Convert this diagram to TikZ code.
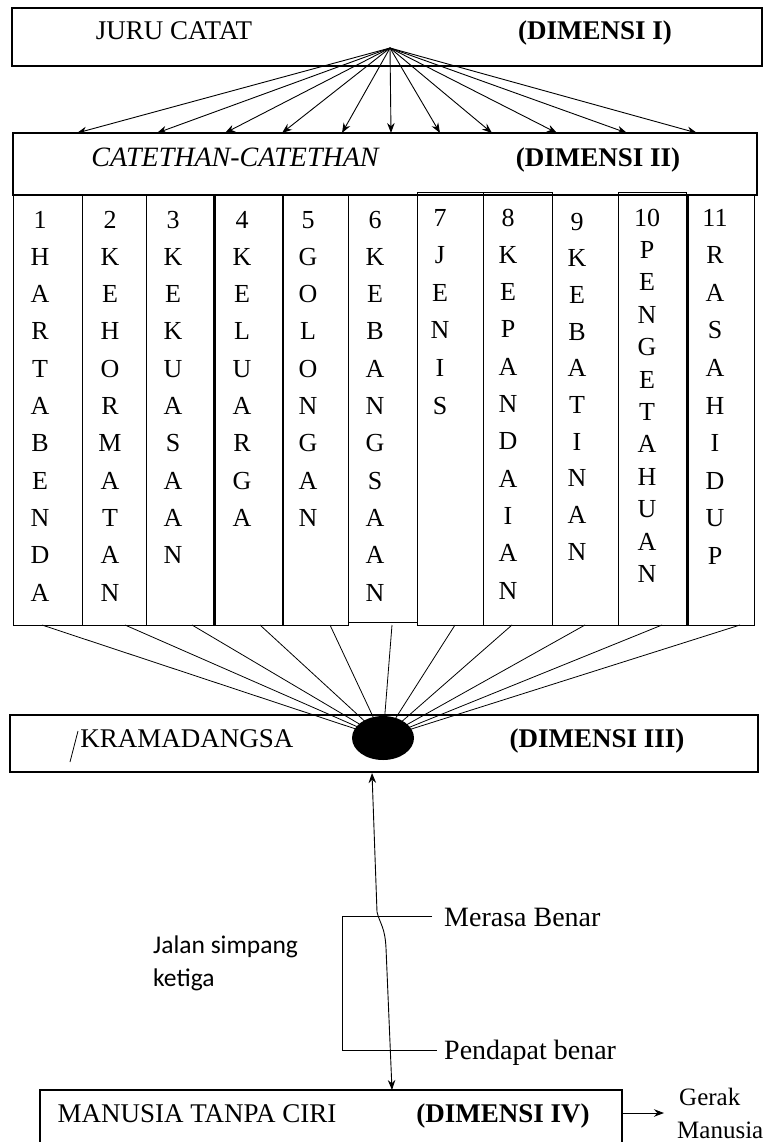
\documentclass[tikz,border=0pt]{standalone}
\usepackage{fontspec}
\setmainfont{Liberation Serif}
\newfontfamily\calfont{Carlito}
\usetikzlibrary{arrows.meta,shapes.geometric}
\begin{document}
\begin{tikzpicture}[x=1pt,y=-1pt,
  box/.style={draw, line width=1.1pt, inner sep=0pt},
  colbox/.style={draw, line width=1.0pt, inner sep=0pt},
  txt/.style={font=\fontsize{27}{32}\selectfont, inner sep=0pt, anchor=base},
  btxt/.style={font=\fontsize{27}{32}\selectfont\bfseries, inner sep=0pt, anchor=base},
  itxt/.style={font=\fontsize{28}{32}\selectfont\itshape, inner sep=0pt, anchor=base},
  ltr/.style={font=\fontsize{26}{30}\selectfont, inner sep=0pt, anchor=base},
  ctxt/.style={font=\fontsize{25.5}{33}\selectfont\calfont, inner sep=0pt, align=left},
  arr/.style={-{Stealth[length=10pt,width=7.5pt]}, line width=0.9pt},
  fan/.style={line width=0.8pt}]
\useasboundingbox (0,0) rectangle (777,1142);
\clip (0,0) rectangle (777,1142);

% Dimensi I
\node[box, minimum width=750pt, minimum height=58pt] (b1) at (387,37) {};
\node[txt] (juru) at (174,40) {JURU CATAT};
\node[btxt] (d1) at (595,40) {(DIMENSI I)};

% Dimensi II
\node[box, minimum width=744pt, minimum height=62pt] (b2) at (385,164) {};
\node[itxt] (cat) at (235,167) {CATETHAN-CATETHAN};
\node[btxt] (d2) at (598,167) {(DIMENSI II)};

% arrows from Juru Catat
\coordinate (src) at (390,48);
\foreach \x [count=\i] in {77,157,225,282,342,391,440,492,557,627,697}{
  \coordinate (t\i) at (\x,133);
  \draw[arr] (src) -- (t\i);
}

% columns
\node[colbox, minimum width=69pt, minimum height=430pt, anchor=north west] (k1) at (13,195) {};
\node[colbox, minimum width=64pt, minimum height=430pt, anchor=north west] (k2) at (82,195) {};
\node[colbox, minimum width=67pt, minimum height=430pt, anchor=north west] (k3) at (146,195) {};
\node[colbox, minimum width=68pt, minimum height=430pt, anchor=north west] (k4) at (214,195) {};
\node[colbox, minimum width=65pt, minimum height=430pt, anchor=north west] (k5) at (283,195) {};
\node[colbox, minimum width=69pt, minimum height=427pt, anchor=north west] (k6) at (348,195) {};
\node[colbox, minimum width=66pt, minimum height=433pt, anchor=north west] (k7) at (417,192) {};
\node[colbox, minimum width=69pt, minimum height=433pt, anchor=north west] (k8) at (483,192) {};
\node[colbox, minimum width=66pt, minimum height=430pt, anchor=north west] (k9) at (552,195) {};
\node[colbox, minimum width=68pt, minimum height=433pt, anchor=north west] (k10) at (618,192) {};
\node[colbox, minimum width=66pt, minimum height=430pt, anchor=north west] (k11) at (688,195) {};
\draw[line width=2.2pt] ([xshift=1pt]k4.north west) -- ([xshift=1pt]k4.south west);
\draw[line width=2.2pt] ([xshift=-0.5pt]k11.north west) -- ([xshift=-0.5pt]k11.south west);

% column letters
\foreach \ch [count=\i] in {1,H,A,R,T,A,B,E,N,D,A}
  \node[ltr] (a1-\i) at (40,228+37.3*\i-37.3) {\ch};
\foreach \ch [count=\i] in {2,K,E,H,O,R,M,A,T,A,N}
  \node[ltr] (a2-\i) at (110,228+37.3*\i-37.3) {\ch};
\foreach \ch [count=\i] in {3,K,E,K,U,A,S,A,A,N}
  \node[ltr] (a3-\i) at (173,228+37.3*\i-37.3) {\ch};
\foreach \ch [count=\i] in {4,K,E,L,U,A,R,G,A}
  \node[ltr] (a4-\i) at (242,228+37.3*\i-37.3) {\ch};
\foreach \ch [count=\i] in {5,G,O,L,O,N,G,A,N}
  \node[ltr] (a5-\i) at (308,228+37.3*\i-37.3) {\ch};
\foreach \ch [count=\i] in {6,K,E,B,A,N,G,S,A,A,N}
  \node[ltr] (a6-\i) at (375,228+37.3*\i-37.3) {\ch};
\foreach \ch [count=\i] in {7,J,E,N,I,S}
  \node[ltr] (a7-\i) at (440,226+37.6*\i-37.6) {\ch};
\foreach \ch [count=\i] in {8,K,E,P,A,N,D,A,I,A,N}
  \node[ltr] (a8-\i) at (508,226+37.3*\i-37.3) {\ch};
\foreach \ch [count=\i] in {9,K,E,B,A,T,I,N,A,N}
  \node[ltr] (a9-\i) at (577,230+36.7*\i-36.7) {\ch};
\foreach \ch [count=\i] in {10,P,E,N,G,E,T,A,H,U,A,N}
  \node[ltr] (a10-\i) at (647,226+32.4*\i-32.4) {\ch};
\foreach \ch [count=\i] in {11,R,A,S,A,H,I,D,U,P}
  \node[ltr] (a11-\i) at (715,226+37.6*\i-37.6) {\ch};

% Dimensi III
\node[box, minimum width=748pt, minimum height=57pt] (b3) at (384,743.5) {};
\node[txt] (kram) at (187,747) {KRAMADANGSA};
\coordinate (sl1) at (70,762);
\coordinate (sl2) at (78,731);
\draw[line width=0.8pt] (sl1) -- (sl2);
\node[btxt] (d3) at (597,747) {(DIMENSI III)};

% fan lines
\node[ellipse, minimum width=62pt, minimum height=44pt, inner sep=0pt] (dot) at (383,738) {};
\foreach \x [count=\i] in {42,125,192,260,330,392,455,512,585,662,740}{
  \coordinate (f\i) at (\x,625);
  \draw[fan] (f\i) -- (dot.center);
}
\fill (dot.center) ellipse [x radius=31pt, y radius=22pt];

% Dimensi IV
\node[box, minimum width=582pt, minimum height=80pt] (b4) at (331,1130) {};
\node[txt] (man) at (197,1122) {MANUSIA TANPA CIRI};
\node[btxt] (d4) at (503,1122) {(DIMENSI IV)};

% vertical connector
\coordinate (v1) at (372,773);
\coordinate (v2) at (392,1090);
\draw[{Stealth[length=10pt,width=7.5pt]}-{Stealth[length=10pt,width=7.5pt]}, line width=0.9pt]
  (v1) -- (377,912) .. controls (380,924) and (385,927) .. (386,948) -- (v2);

% bracket
\coordinate (m1) at (342,916);
\coordinate (m2) at (432,916);
\coordinate (p1) at (342,1050);
\coordinate (p2) at (437,1050);
\draw[line width=0.8pt] (m2) -- (m1) -- (p1) -- (p2);
\node[txt, anchor=base west, font=\fontsize{28}{32}\selectfont] (mer) at (444,926) {Merasa Benar};
\node[txt, anchor=base west, font=\fontsize{28}{32}\selectfont] (pen) at (444,1059) {Pendapat benar};
\node[ctxt, anchor=north west] (jal) at (153,936) {Jalan simpang\\ketiga};

% Gerak Manusia
\coordinate (g1) at (664,1113);
\draw[arr] (b4.east |- g1) -- (g1);
\node[txt, anchor=base west, font=\fontsize{25}{30}\selectfont] (ger) at (679,1105) {Gerak};
\node[txt, anchor=base west, font=\fontsize{25}{30}\selectfont] (manu) at (677,1138) {Manusia};
\end{tikzpicture}
\end{document}
